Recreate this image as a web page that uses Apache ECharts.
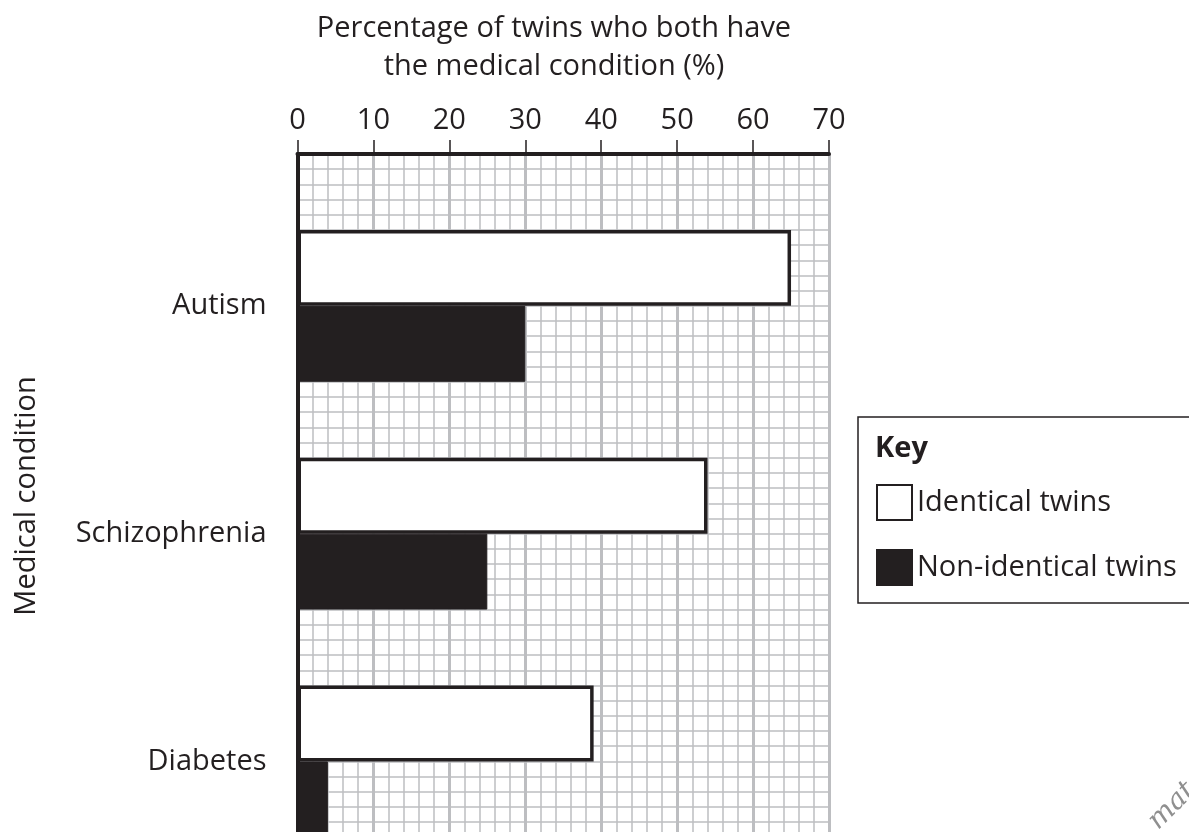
<!DOCTYPE html>
<html>
<head>
<meta charset="utf-8">
<script src="https://cdn.jsdelivr.net/npm/echarts@6/dist/echarts.min.js"></script>
<style>
  html, body { margin: 0; padding: 0; background: #ffffff; overflow: hidden; }
  #chart { width: 1189px; height: 900px; }
</style>
</head>
<body>
<div id="chart"></div>
<script>
// ---- data ----
const categories = ['Autism', 'Schizophrenia', 'Diabetes'];
const identicalTwins = [65, 54, 39];
const nonIdenticalTwins = [30, 25, 4];
const xTickLabels = [0, 10, 20, 30, 40, 50, 60, 70];
const seriesNames = ['Identical twins', 'Non-identical twins'];
const xTitle = 'Percentage of twins who both have\nthe medical condition (%)';
const yTitle = 'Medical condition';
const keyTitle = 'Key';

// ---- layout ----
const FONT = '"Open Sans", "Noto Sans", sans-serif';
const FS = 29;
const INK = '#231f20';
const GRIDC = '#bdbec1';
const L = 297.5, W = 531.5;            // 0..70
const CELL = W / 35;                    // 2 units per cell
const TOP = 154;
const barsTop = TOP + 2.5 * CELL;

const chart = echarts.init(document.getElementById('chart'), null, { renderer: 'canvas' });
chart.setOption({
  animation: false,
  backgroundColor: '#ffffff',
  textStyle: { fontFamily: FONT },
  grid: [
    { left: L, top: TOP, width: W, height: 46 * CELL },
    { left: L, top: barsTop, width: W, height: 45 * CELL }
  ],
  xAxis: [
    {
      gridIndex: 0, type: 'value', position: 'top',
      min: xTickLabels[0], max: xTickLabels[xTickLabels.length - 1], interval: 10,
      axisLine: { show: true, onZero: false, lineStyle: { color: INK, width: 4 } },
      axisTick: { show: true, length: 14, inside: false, lineStyle: { color: INK, width: 1.5 } },
      axisLabel: { show: true, margin: 19, fontSize: FS, color: INK, fontFamily: FONT },
      splitLine: { show: true, lineStyle: { color: GRIDC, width: 3 } },
      minorTick: { show: false, splitNumber: 5 },
      minorSplitLine: { show: true, lineStyle: { color: GRIDC, width: 1.5 } },
      z: 1
    },
    {
      gridIndex: 1, type: 'value', min: 0, max: 70,
      show: false
    }
  ],
  yAxis: [
    {
      gridIndex: 0, type: 'value', inverse: true, min: 0, max: 46, interval: 1,
      axisLine: { show: true, onZero: false, lineStyle: { color: INK, width: 4 } },
      axisTick: { show: false },
      axisLabel: { show: false },
      splitLine: { show: true, lineStyle: { color: GRIDC, width: 1.5 } },
      z: 1
    },
    {
      gridIndex: 1, type: 'category', inverse: true, data: categories,
      axisLine: { show: false },
      axisTick: { show: false },
      axisLabel: { show: true, margin: 31, fontSize: FS, color: INK, fontFamily: FONT }
    }
  ],
  legend: {
    orient: 'vertical', left: 876, top: 484,
    itemWidth: 35, itemHeight: 35, itemGap: 28, padding: 0,
    icon: 'rect',
    textStyle: { fontSize: FS, color: INK, fontFamily: FONT, padding: [0, 0, 0, 0] },
    data: seriesNames
  },
  graphic: [
    { type: 'rect', shape: { x: 858, y: 417, width: 400, height: 186 },
      style: { fill: 'none', stroke: INK, lineWidth: 1.5 }, z: 0 },
    { type: 'text', x: 875, y: 449,
      style: { text: keyTitle, font: 'bold ' + FS + 'px ' + FONT, fill: INK, textVerticalAlign: 'middle' } },
    { type: 'text', x: 554, y: 10,
      style: { text: xTitle, font: FS + 'px ' + FONT, fill: INK, textAlign: 'center', lineHeight: 38 } },
    { type: 'text', x: 27, y: 496, rotation: Math.PI / 2,
      style: { text: yTitle, font: FS + 'px ' + FONT, fill: INK, textAlign: 'center', textVerticalAlign: 'middle' } },
    { type: 'text', x: 1172, y: 806, rotation: Math.PI / 4,
      style: { text: 'mat', font: 'italic 28px "DejaVu Serif", serif', fill: '#8f8f8f', textAlign: 'center', textVerticalAlign: 'middle' } }
  ],
  series: [
    {
      name: seriesNames[0], type: 'bar', xAxisIndex: 1, yAxisIndex: 1,
      data: identicalTwins, barWidth: 5 * CELL, barGap: '0%',
      itemStyle: { color: '#ffffff', borderColor: INK, borderWidth: 3.5 }, z: 3
    },
    {
      name: seriesNames[1], type: 'bar', xAxisIndex: 1, yAxisIndex: 1,
      data: nonIdenticalTwins, barWidth: 5 * CELL, barGap: '0%',
      itemStyle: { color: INK, borderColor: INK, borderWidth: 1 }, z: 2
    }
  ]
});
</script>
</body>
</html>
